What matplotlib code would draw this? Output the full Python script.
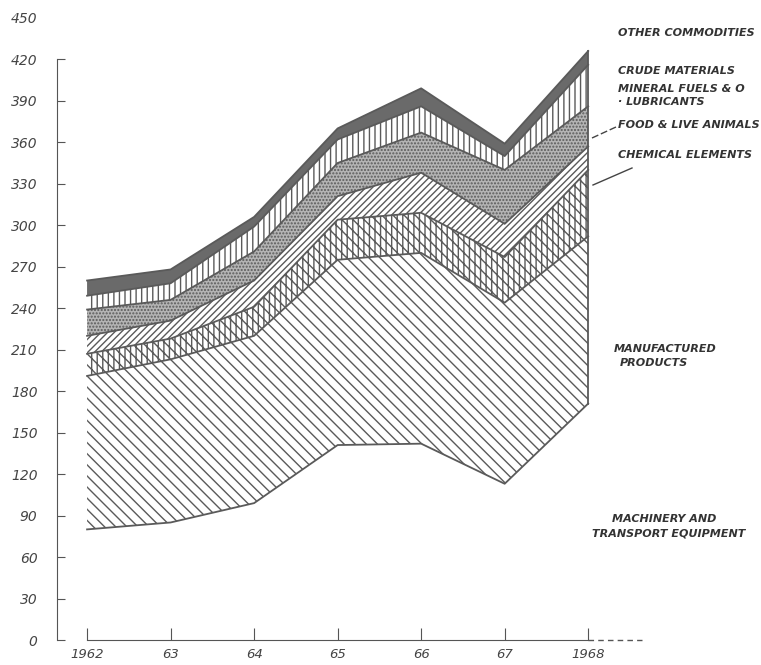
import matplotlib.pyplot as plt
import numpy as np

# data (values per category, stacked bottom -> top)
years = [1962, 1963, 1964, 1965, 1966, 1967, 1968]
year_labels = ['1962', '63', '64', '65', '66', '67', '1968']

machinery = [80, 85, 99, 141, 142, 113, 171]
manufactured = [111, 118, 121, 134, 138, 131, 121]
chemical = [16, 15, 21, 29, 29, 33, 48]
food = [13, 13, 19, 17, 29, 24, 17]
fuels = [19, 15, 21, 24, 29, 39, 29]
crude = [10, 12, 18, 17, 19, 10, 30]
other = [11, 10, 7, 8, 13, 9, 10]

series = [machinery, manufactured, chemical, food, fuels, crude, other]

# look of each band: facecolor, hatch
styles = [('white', ''), ('white', '\\\\\\'), ('white', '|||\\\\\\'), ('white', '/////'),
          ('#b4b4b4', '.....'), ('white', '|||'), ('#6a6a6a', '')]

plt.rcParams['hatch.linewidth'] = 1.0
line_col = '#5a5a5a'

fig = plt.figure(figsize=(7.61, 6.65), dpi=100)
ax = fig.add_axes([57 / 761, 1 - 640 / 665, 593 / 761, 636 / 665])

tops = np.cumsum(np.array(series, dtype=float), axis=0)
bottom = np.zeros(len(years))
for top, (fc, h) in zip(tops, styles):
    ax.fill_between(years, bottom, top, facecolor=fc, hatch=h,
                    edgecolor=line_col, linewidth=0)
    ax.plot(years, top, color=line_col, lw=1.3)
    bottom = top
ax.plot([years[-1], years[-1]], [tops[0][-1], tops[-1][-1]], color=line_col, lw=1.3)

ax.set_xlim(1961.64, 1968.74)
ax.set_ylim(0, 460)

for s in ['top', 'right']:
    ax.spines[s].set_visible(False)
ax.spines['left'].set_bounds(0, 420)
ax.spines['bottom'].set_bounds(1962, 1968)
ax.spines['left'].set_color('#555')
ax.spines['bottom'].set_color('#555')
ax.plot([1968, 1968.65], [0, 0], color='#555', lw=1, ls=(0, (4, 3)), clip_on=False)

ax.set_yticks(range(0, 451, 30))
ax.set_xticks(years)
ax.set_xticklabels(year_labels)
ax.tick_params(axis='y', direction='in', length=6, pad=14, colors='#555',
               labelsize=10, labelcolor='#444')
ax.tick_params(axis='x', direction='in', length=9, pad=6, colors='#555',
               labelsize=9.5, labelcolor='#444')
ax.yaxis.get_major_ticks()[-1].tick1line.set_visible(False)
for lab in ax.get_xticklabels() + ax.get_yticklabels():
    lab.set_fontstyle('italic')

# labels on the right (text, x px, y px)
labels = [('OTHER COMMODITIES', 618, 33),
          ('CRUDE MATERIALS', 618, 71),
          ('MINERAL FUELS & O', 618, 89),
          ('· LUBRICANTS', 618, 102),
          ('FOOD & LIVE ANIMALS', 618, 125),
          ('CHEMICAL ELEMENTS', 618, 155),
          ('MANUFACTURED', 614, 349),
          ('PRODUCTS', 620, 363),
          ('MACHINERY AND', 612, 519),
          ('TRANSPORT EQUIPMENT', 592, 533)]
txt = dict(fontsize=8, fontweight='bold', fontstyle='italic', color='#333',
           va='center', ha='left')
for name, px, py in labels:
    fig.text(px / 761, 1 - py / 665, name, **txt)

# leader lines
fig.add_artist(plt.Line2D([592 / 761, 616 / 761], [1 - 138 / 665, 1 - 127 / 665],
                          color='#444', lw=1, ls=(0, (5, 2))))
fig.add_artist(plt.Line2D([593 / 761, 632 / 761], [1 - 185 / 665, 1 - 168 / 665],
                          color='#444', lw=1))

fig.savefig('out.png', dpi=100)
